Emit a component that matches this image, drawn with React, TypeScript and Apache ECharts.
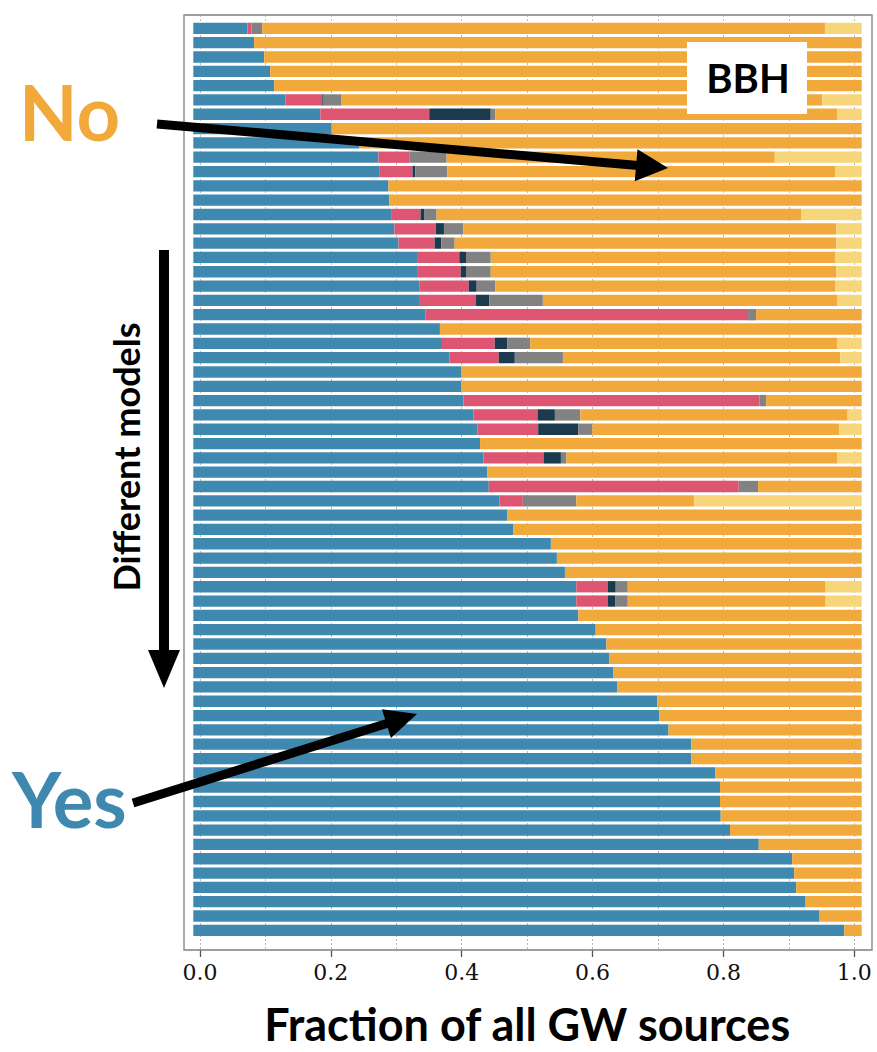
import React, { useEffect, useRef } from "react";
import * as echarts from "echarts";

// 64 population models, top to bottom
const models: string[] = Array.from({ length: 64 }, (_, i) => `Model ${i + 1}`);

// fraction of GW sources per class (each row sums to 1)
const yesBlue = [0.081,0.091,0.106,0.115,0.121,0.138,0.190,0.207,0.248,0.277,0.278,0.292,0.293,0.297,0.301,0.307,0.336,0.336,0.338,0.339,0.347,0.369,0.372,0.383,0.401,0.401,0.404,0.419,0.425,0.429,0.434,0.440,0.442,0.458,0.470,0.479,0.535,0.544,0.556,0.573,0.573,0.576,0.602,0.618,0.622,0.628,0.634,0.694,0.697,0.711,0.745,0.745,0.781,0.788,0.788,0.789,0.803,0.846,0.896,0.899,0.902,0.916,0.937,0.974];
const redFrac = [0.006,0,0,0,0,0.055,0.163,0,0,0.046,0.050,0,0,0.043,0.062,0.054,0.062,0.064,0.074,0.084,0.483,0,0.079,0.074,0,0,0.443,0.096,0.091,0,0.090,0,0.374,0.035,0,0,0,0,0,0.047,0.047,0,0,0,0,0,0,0,0,0,0,0,0,0,0,0,0,0,0,0,0,0,0,0];
const darkFrac = [0,0,0,0,0,0.002,0.092,0,0,0,0.004,0,0,0.006,0.012,0.010,0.010,0.008,0.012,0.020,0,0,0.019,0.024,0,0,0,0.026,0.060,0,0.026,0,0,0,0,0,0,0,0,0.012,0.011,0,0,0,0,0,0,0,0,0,0,0,0,0,0,0,0,0,0,0,0,0,0,0];
const grayFrac = [0.016,0,0,0,0,0.026,0.007,0,0,0.056,0.048,0,0,0.018,0.029,0.020,0.037,0.037,0.028,0.080,0.012,0,0.034,0.072,0,0,0.010,0.038,0.021,0,0.008,0,0.029,0.080,0,0,0,0,0,0.018,0.019,0,0,0,0,0,0,0,0,0,0,0,0,0,0,0,0,0,0,0,0,0,0,0];
const noOrange = [0.842,0.909,0.894,0.885,0.879,0.720,0.511,0.793,0.752,0.491,0.580,0.708,0.707,0.546,0.558,0.571,0.515,0.517,0.508,0.440,0.158,0.631,0.459,0.415,0.599,0.599,0.143,0.400,0.369,0.571,0.405,0.560,0.155,0.176,0.530,0.521,0.465,0.456,0.444,0.296,0.296,0.424,0.398,0.382,0.378,0.372,0.366,0.306,0.303,0.289,0.255,0.255,0.219,0.212,0.212,0.211,0.197,0.154,0.104,0.101,0.098,0.084,0.063,0.026];
const yellowFrac = [0.055,0,0,0,0,0.059,0.037,0,0,0.130,0.040,0,0,0.090,0.038,0.038,0.040,0.038,0.040,0.037,0,0,0.037,0.032,0,0,0,0.021,0.034,0,0.037,0,0,0.251,0,0,0,0,0,0.054,0.054,0,0,0,0,0,0,0,0,0,0,0,0,0,0,0,0,0,0,0,0,0,0,0];

const seriesNames = ["Yes", "Class A", "Class B", "Class C", "No", "Class D"];
const seriesColors = ["#3f89b0", "#de5571", "#1b3a4d", "#828282", "#f1a93c", "#f7d57a"];
const seriesData = [yesBlue, redFrac, darkFrac, grayFrac, noOrange, yellowFrac];

const axisTitle = "Fraction of all GW sources";

function arrow(x1: number, y1: number, x2: number, y2: number, w: number, hl: number, hw: number) {
  const dx = x2 - x1, dy = y2 - y1;
  const L = Math.hypot(dx, dy);
  const ux = dx / L, uy = dy / L;
  const bx = x2 - ux * hl, by = y2 - uy * hl;
  const px = -uy, py = ux;
  return [
    { type: "line", z: 110, shape: { x1, y1, x2: bx + ux * 2, y2: by + uy * 2 }, style: { stroke: "#000", lineWidth: w } },
    { type: "polygon", z: 111, shape: { points: [[x2, y2], [bx + px * hw, by + py * hw], [bx - px * hw, by - py * hw]] }, style: { fill: "#000" } },
  ];
}

export default function App() {
  const ref = useRef<HTMLDivElement>(null);
  useEffect(() => {
    if (!ref.current) return;
    const chart = echarts.init(ref.current, undefined, { renderer: "svg" });
    const option: any = {
      animation: false,
      backgroundColor: "#fff",
      grid: [
        { left: 193.3, right: 15.3, top: 21.2, bottom: 114.5 },
        { left: 200, right: 22.7, top: 15, bottom: 102 },
      ],
      xAxis: [
        { gridIndex: 0, type: "value", min: 0, max: 1, show: false },
        {
          gridIndex: 1, type: "value", min: 0, max: 1, interval: 0.1, position: "bottom",
          axisLine: { show: false, onZero: false }, axisTick: { show: false }, axisLabel: { show: false },
          splitLine: { show: true, lineStyle: { color: "#b8b8b8", width: 1, type: [2, 2] } },
        },
        {
          gridIndex: 1, type: "value", min: 0, max: 1, interval: 0.2, position: "bottom",
          axisLine: { show: false, onZero: false },
          axisTick: { show: true, length: 7, lineStyle: { color: "#555", width: 1.3 } },
          axisLabel: { formatter: (v: number) => v.toFixed(1), fontFamily: "DejaVu Serif", fontSize: 22, color: "#111", margin: 11 },
          splitLine: { show: false },
          name: axisTitle, nameLocation: "middle", nameGap: 51,
          nameTextStyle: { fontFamily: "Lato", fontWeight: "bold", fontSize: 45, color: "#000" },
        },
      ],
      yAxis: [
        { gridIndex: 0, type: "category", data: models, inverse: true, show: false },
        { gridIndex: 1, type: "value", min: 0, max: 1, show: false },
      ],
      series: seriesNames.map((n, i) => ({
        name: n, type: "bar", stack: "total", xAxisIndex: 0, yAxisIndex: 0,
        data: seriesData[i], barCategoryGap: "21%",
        itemStyle: { color: seriesColors[i] },
      })),
      graphic: [
        { type: "rect", z: 100, shape: { x: 184, y: 15, width: 688, height: 935 }, style: { fill: "none", stroke: "#808080", lineWidth: 1.3 } },
        { type: "rect", z: 100, shape: { x: 687, y: 42, width: 120, height: 72 }, style: { fill: "#fff" } },
        { type: "text", z: 101, x: 748, y: 78, style: { text: "BBH", font: "bold 40px Lato", fill: "#000", align: "center", verticalAlign: "middle", textAlign: "center", textVerticalAlign: "middle" } },
        { type: "text", z: 101, x: 19, y: 111, style: { text: "No", font: "bold 76px Lato", fill: "#f1a93c", align: "left", verticalAlign: "middle", textAlign: "left", textVerticalAlign: "middle" } },
        { type: "text", z: 101, x: 12, y: 798, style: { text: "Yes", font: "bold 76px Lato", fill: "#3f89b0", align: "left", verticalAlign: "middle", textAlign: "left", textVerticalAlign: "middle" } },
        { type: "text", z: 101, x: 126, y: 457, rotation: Math.PI / 2, style: { text: "Different models", font: "bold 36px Lato", fill: "#000", align: "center", verticalAlign: "middle", textAlign: "center", textVerticalAlign: "middle" } },
        ...arrow(164, 250, 164, 688, 10, 38, 16),
        ...arrow(157, 124, 668, 168, 9, 32, 16),
        ...arrow(133, 803, 417, 714, 9, 32, 15),
      ],
    };
    chart.setOption(option);
    return () => chart.dispose();
  }, []);
  return <div ref={ref} style={{ position: "fixed", left: 0, top: 0, width: 877, height: 1052 }} />;
}
